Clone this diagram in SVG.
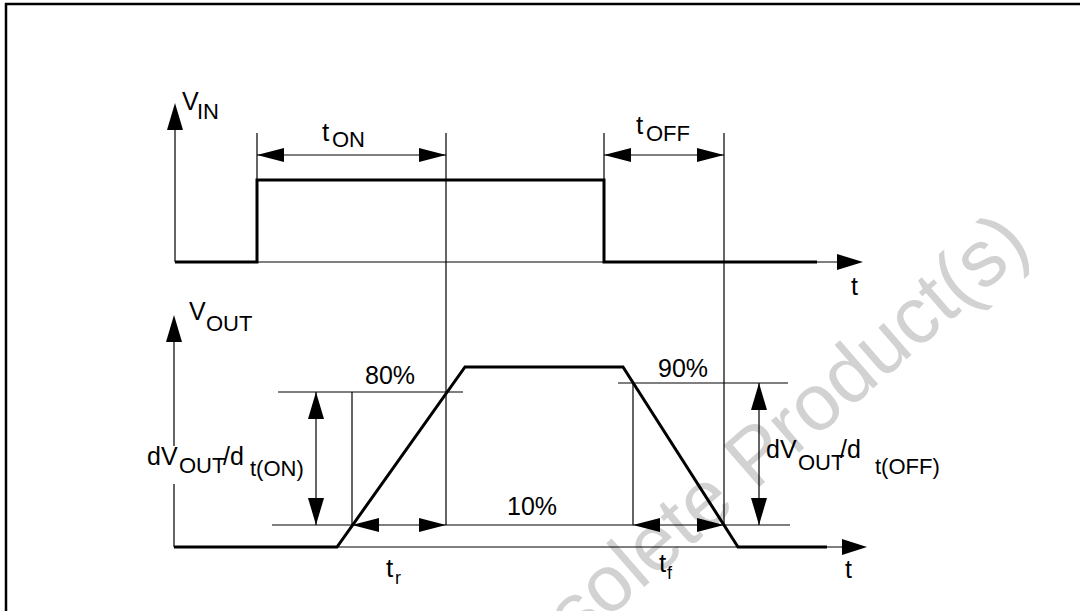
<svg xmlns="http://www.w3.org/2000/svg" width="1080" height="611" viewBox="0 0 1080 611">
<style>
.thin{stroke:#000;stroke-width:1.2;fill:none}
.thick{stroke:#000;stroke-width:3;fill:none;stroke-linejoin:miter}
.ah{fill:#000;stroke:none}
text{font-family:"Liberation Sans",Arial,sans-serif;fill:#000}
.m{font-size:25px}
.s{font-size:22px}
.t{font-size:26px}
.wm{font-family:"Liberation Sans",Arial,sans-serif;font-size:80px;fill:#d2d2d2}
</style>
<rect width="1080" height="611" fill="#fff"/>
<g id="watermark">
<text class="wm" transform="translate(496 716) rotate(-41)">Obsolete Product(s)</text>
</g>
<g id="frame">
<path d="M6 3 V611 M5 4 H1080" stroke="#000" stroke-width="2.5" fill="none"/>
</g>
<g id="vin-chart">
<path class="thin" d="M175 262 V128 M175 262 H840"/>
<polygon class="ah" points="175,103 167,130 183,130"/>
<polygon class="ah" points="863,262 837,254 837,270"/>
<polyline class="thick" points="175,262 257,262 257,180 604,180 604,262 817,262"/>
</g>
<g id="vout-chart">
<path class="thin" d="M174 547 V484 M174 446 V340 M174 547 H845"/>
<polygon class="ah" points="174,315 166,342 182,342"/>
<polygon class="ah" points="867,547 842,539 842,555"/>
<polyline class="thick" points="174,547 337,547 465,367 623,367 738,547 827,547"/>
</g>
<g id="connectors">
<path class="thin" d="M257 133 V180 M446 133 V525 M604 133 V180 M724 133 V525"/>
<path class="thin" d="M257 155 H446 M604 155 H724"/>
<polygon class="ah" points="257,155 284,148 284,162"/>
<polygon class="ah" points="446,155 419,148 419,162"/>
<polygon class="ah" points="604,155 631,148 631,162"/>
<polygon class="ah" points="724,155 697,148 697,162"/>
<path class="thin" d="M278 392 H463 M618 383 H788 M272 525 H790"/>
<path class="thin" d="M352 392 V525 M633 383 V525 M316 392 V525 M759 383 V525"/>
<polygon class="ah" points="316,392 308,419 324,419"/>
<polygon class="ah" points="316,525 308,498 324,498"/>
<polygon class="ah" points="759,383 751,410 767,410"/>
<polygon class="ah" points="759,525 751,498 767,498"/>
<polygon class="ah" points="352,525 379,518 379,532"/>
<polygon class="ah" points="446,525 419,518 419,532"/>
<polygon class="ah" points="633,525 660,518 660,532"/>
<polygon class="ah" points="724,525 697,518 697,532"/>
</g>
<g id="labels">
<text class="m" x="182" y="110">V<tspan class="s" x="197" y="119">IN</tspan></text>
<text class="t" x="322" y="141">t<tspan class="s" x="332" y="147">ON</tspan></text>
<text class="t" x="636" y="134">t<tspan class="s" x="646" y="141">OFF</tspan></text>
<text class="m" x="851" y="295">t</text>
<text class="m" x="189" y="320">V<tspan class="s" x="206" y="331">OUT</tspan></text>
<text class="m" x="365" y="384">80%</text>
<text class="m" x="658" y="377">90%</text>
<text class="m" x="507" y="515">10%</text>
<text class="m" x="147" y="465">dV<tspan class="s" x="179" y="473">OUT</tspan><tspan class="m" x="223" y="465">/d</tspan><tspan class="s" x="250" y="476">t(ON)</tspan></text>
<text class="m" x="766" y="458">dV<tspan class="s" x="798" y="470">OUT</tspan><tspan class="m" x="840" y="458">/d</tspan><tspan class="s" x="875" y="474" font-size="21">t(OFF)</tspan></text>
<text class="t" x="386" y="577">t<tspan x="395" y="584" font-size="18">r</tspan></text>
<text class="t" x="659" y="572">t<tspan x="667" y="579" font-size="18">f</tspan></text>
<text class="m" x="845" y="578">t</text>
</g>
</svg>
